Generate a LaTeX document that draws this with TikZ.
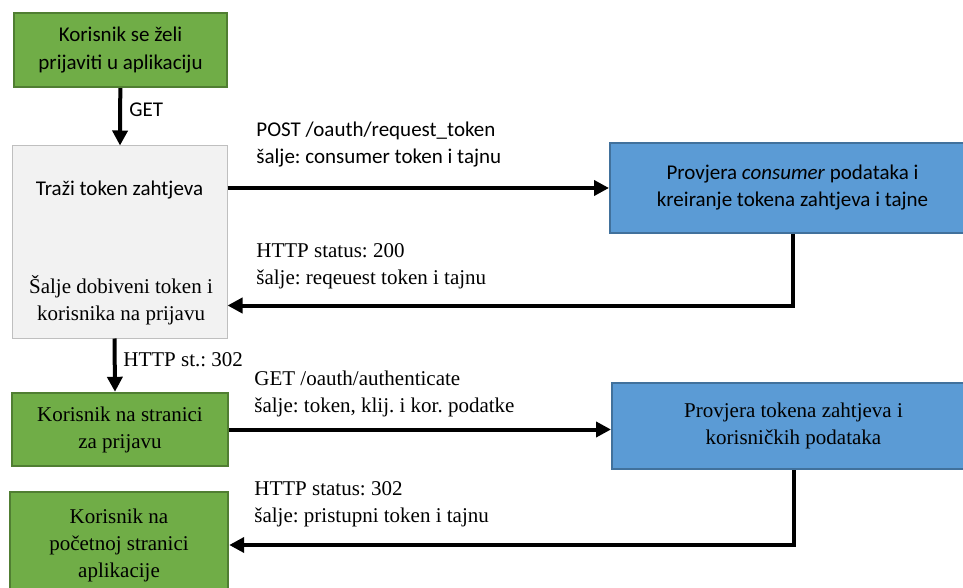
\documentclass[tikz,border=0pt]{standalone}
\usepackage{fontspec}
\setmainfont{Liberation Serif}
\newfontfamily\calibri{Carlito}
\newfontfamily\serifni{Liberation Serif}
\usetikzlibrary{arrows.meta,positioning,calc}
\definecolor{zelena}{HTML}{70AD47}
\definecolor{zelenarub}{HTML}{507E32}
\definecolor{plava}{HTML}{5B9BD5}
\definecolor{plavarub}{HTML}{41719C}
\definecolor{siva}{HTML}{F2F2F2}
\definecolor{sivarub}{HTML}{BFBFBF}
\newcommand\vel{\fontsize{10.5}{13.5}\selectfont\frenchspacing}

\begin{document}
\begin{tikzpicture}[x=0.5pt,y=-0.5pt,font=\vel\serifni,
  kutija/.style={rectangle,align=center,inner sep=0pt,font=\vel\serifni},
  zeleni/.style={kutija,draw=zelenarub,fill=zelena,line width=1.2pt},
  plavi/.style={kutija,draw=plavarub,fill=plava,line width=1pt},
  sivi/.style={kutija,draw=sivarub,fill=siva,line width=0.5pt},
  lbl/.style={anchor=west,align=left,inner sep=0pt,font=\vel\serifni},
  strel/.style={line width=2pt,-{Triangle[length=7.5pt,width=7.5pt]}}]
\useasboundingbox (0,0) rectangle (963,588);
\node[zeleni,minimum width=106.5pt,minimum height=37pt,font=\vel\calibri] (start) at (120.5,50) {Korisnik se želi\\[0.5pt]prijaviti u aplikaciju};
\node[sivi,minimum width=107.5pt,minimum height=96pt] (trazi) at (119.5,242) {};
\node[font=\vel\calibri] (trazitxt) at (119.5,190) {Traži token zahtjeva};
\node[align=center,font=\vel\serifni] (saljetxt) at (121,300) {Šalje dobiveni token i\\korisnika na prijavu};
\node[plavi,minimum width=182.5pt,minimum height=45pt,font=\vel\calibri] (provjera) at (792.5,188) {Provjera \textit{consumer} podataka i\\kreiranje tokena zahtjeva i tajne};
\node[zeleni,minimum width=108pt,minimum height=36.5pt] (prijava) at (120,429.5) {Korisnik na stranici\\za prijavu};
\node[plavi,minimum width=181.5pt,minimum height=43pt] (provjera2) at (793.5,426) {Provjera tokena zahtjeva i\\korisničkih podataka};
\node[zeleni,minimum width=109pt,minimum height=53pt] (pocetna) at (119,545) {Korisnik na\\početnoj stranici\\aplikacije};
\draw[strel] (start) -- (trazi);
\draw[strel] (trazi.east |- provjera.west) -- (provjera.west);
\draw[strel] (provjera.south) |- ([yshift=16.5pt]trazi.south east);
\draw[strel] ([xshift=-2.5pt]trazi.south) -- ([xshift=-2.5pt]prijava.north);
\draw[strel] (prijava.east) -- (prijava.east -| provjera2.west);
\draw[strel] (provjera2.south) |- (pocetna.east);
\node[lbl,font=\vel\calibri] (get) at (129,110) {GET};
\node[lbl,font=\vel\calibri] (post) at (256,145) {POST /oauth/request\_token\\šalje: consumer token i tajnu};
\node[lbl] (st200) at (256,266.5) {HTTP status: 200\\šalje: reqeuest token i tajnu};
\node[lbl] (st302a) at (123,360) {HTTP st.: 302};
\node[lbl] (auth) at (254,393.5) {GET /oauth/authenticate\\šalje: token, klij. i kor. podatke};
\node[lbl] (st302b) at (254,504.5) {HTTP status: 302\\šalje: pristupni token i tajnu};
\end{tikzpicture}
\end{document}
